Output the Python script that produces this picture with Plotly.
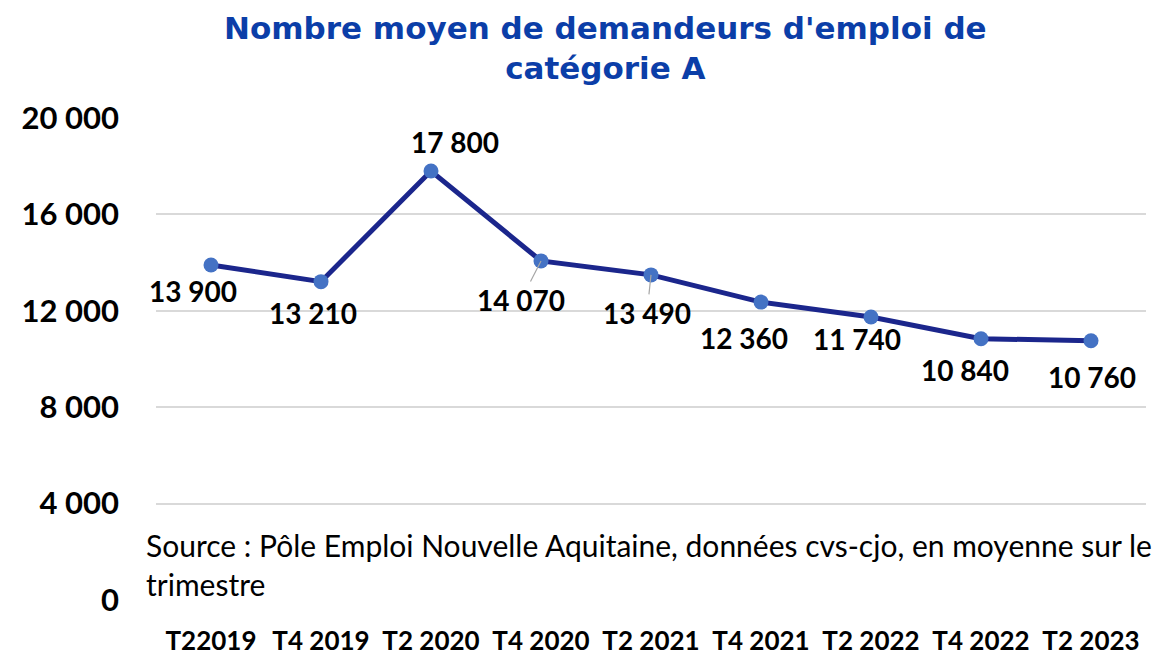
import plotly.graph_objects as go

# données
trimestres = ["T22019", "T4 2019", "T2 2020", "T4 2020", "T2 2021",
              "T4 2021", "T2 2022", "T4 2022", "T2 2023"]
demandeurs = [13900, 13210, 17800, 14070, 13490, 12360, 11740, 10840, 10760]
etiquettes = ["13 900", "13 210", "17 800", "14 070", "13 490",
              "12 360", "11 740", "10 840", "10 760"]
y_ticks = [0, 4000, 8000, 12000, 16000, 20000]
y_tick_labels = ["0", "4 000", "8 000", "12 000", "16 000", "20 000"]

# décalage des étiquettes (px) par rapport au point
decalages = [(-18, -26), (-8, -31), (24, 29), (-20, -39), (-4, -38),
             (-17, -36), (-14, -22), (-16, -31), (1, -36)]
avec_trait = [False, False, False, True, True, False, False, False, False]

POLICE = "Lato, Open Sans, sans-serif"
lab_font = dict(family=POLICE, size=28, color="black", weight="bold")

fig = go.Figure()
fig.add_trace(go.Scatter(
    x=trimestres,
    y=demandeurs,
    mode="lines+markers",
    line=dict(color="#1B268C", width=5),
    marker=dict(color="#4472C4", size=15),
    hoverinfo="skip",
))

for t, v, lab, (dx, dy), trait in zip(trimestres, demandeurs, etiquettes, decalages, avec_trait):
    if trait:
        fig.add_annotation(
            x=t, y=v, text=lab, showarrow=True,
            ax=dx, ay=-dy, arrowhead=0, arrowwidth=1.2, arrowcolor="#A6A6A6",
            standoff=0, startstandoff=0, font=lab_font,
        )
    else:
        fig.add_annotation(
            x=t, y=v, text=lab, showarrow=False, xshift=dx, yshift=dy,
            font=lab_font,
        )

# source
fig.add_annotation(
    xref="paper", yref="paper", x=-0.012, y=0.0746, xanchor="left", yanchor="middle",
    align="left", showarrow=False,
    text="Source : Pôle Emploi Nouvelle Aquitaine, données cvs-cjo, en moyenne sur le<br>trimestre",
    font=dict(family=POLICE, size=30, color="black"),
)

# titre
fig.add_annotation(
    xref="paper", yref="paper", x=0.4545, y=1.145, xanchor="center", yanchor="middle",
    showarrow=False,
    text="Nombre moyen de demandeurs d'emploi de<br>catégorie A",
    font=dict(family="DejaVu Sans, sans-serif", size=31, color="#0B3EA8", weight="bold"),
)

fig.update_layout(
    width=1157, height=649,
    paper_bgcolor="white", plot_bgcolor="white",
    margin=dict(l=148, r=19, t=110, b=57),
    showlegend=False,
    xaxis=dict(
        range=[-0.5, 8.5], showgrid=False, zeroline=False, showline=False,
        ticks="", ticklabelstandoff=23, automargin=False,
        tickfont=dict(family=POLICE, size=26, color="black", weight="bold"),
    ),
    yaxis=dict(
        range=[0, 20000], tickvals=y_ticks, ticktext=y_tick_labels,
        showgrid=True, gridcolor="#D9D9D9", gridwidth=1.5, zeroline=False,
        showline=False, ticks="", ticklabelstandoff=36, automargin=False,
        tickfont=dict(family=POLICE, size=31, color="black", weight="bold"),
    ),
)

fig.write_html("out.html")
